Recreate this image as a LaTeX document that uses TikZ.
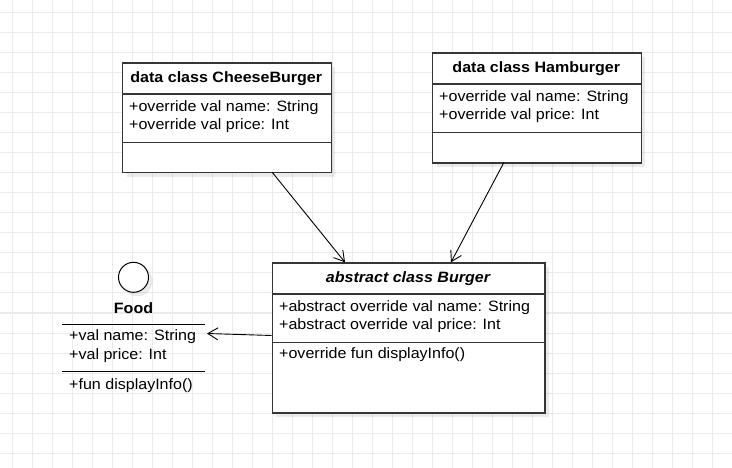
\documentclass[tikz,border=0pt]{standalone}
\usepackage{fontspec}
\setmainfont{Liberation Sans}[FakeStretch=1.07]
\usetikzlibrary{arrows.meta,shadows}
\definecolor{gridc}{HTML}{EBEBEB}
\definecolor{boxc}{HTML}{363636}
\begin{document}
\begin{tikzpicture}[x=1pt,y=-1pt,
  box/.style={draw=boxc, line width=1.4pt, fill=white, inner sep=0pt, anchor=north west,
    drop shadow={shadow xshift=4pt, shadow yshift=-4pt, fill=black, opacity=0.08}},
  sepline/.style={draw=boxc, line width=1.2pt},
  txt/.style={font=\fontsize{15}{17}\selectfont, inner sep=0pt, anchor=west, text=black},
  ttl/.style={font=\fontsize{15}{17}\selectfont\bfseries, inner sep=0pt, text=black},
  conn/.style={draw=black, line width=0.9pt, -{Straight Barb[length=10pt,width=12pt,line width=0.9pt]}}]
\useasboundingbox (0,0) rectangle (732,468);
\fill[white] (0,0) rectangle (732,468);
% grid
\foreach \gx in {12,32,...,732} \draw[gridc, line width=1pt] (\gx,0) -- (\gx,468);
\foreach \gy in {13,33,...,468} \draw[gridc, line width=1pt] (0,\gy) -- (732,\gy);

% CheeseBurger
\node[box, minimum width=208.7pt, minimum height=109.5pt] (cb) at (122,62.5) {};
\draw[sepline] (122,94) -- (330.7,94);
\draw[sepline] (122,142.3) -- (330.7,142.3);
\node[ttl] (cbt) at (226.3,78.5) {data class CheeseBurger};
\node[txt] (cba1) at (129,107.7) {+override val name: String};
\node[txt] (cba2) at (129,126) {+override val price: Int};

% Hamburger
\node[box, minimum width=208.7pt, minimum height=110pt] (hb) at (432,52.3) {};
\draw[sepline] (432,84) -- (640.7,84);
\draw[sepline] (432,132.3) -- (640.7,132.3);
\node[ttl] (hbt) at (536.3,68.5) {data class Hamburger};
\node[txt] (hba1) at (439,97.7) {+override val name: String};
\node[txt] (hba2) at (439,116) {+override val price: Int};

% Burger
\node[box, minimum width=272.6pt, minimum height=150pt] (bg) at (271.7,262.3) {};
\draw[sepline] (271.7,294) -- (544.3,294);
\draw[sepline] (271.7,342.3) -- (544.3,342.3);
\node[ttl, font=\fontsize{15}{17}\selectfont\bfseries\itshape] (bgt) at (408,278.5) {abstract class Burger};
\node[txt] (bga1) at (279,307.7) {+abstract override val name: String};
\node[txt] (bga2) at (279,326) {+abstract override val price: Int};
\node[txt] (bgm1) at (279,355) {+override fun displayInfo()};

% Food interface
\node[circle, draw=black, line width=1pt, fill=white, minimum size=30pt, inner sep=0pt,
  drop shadow={shadow xshift=4pt, shadow yshift=-4pt, fill=black, opacity=0.08}] (fc) at (133.5,277.3) {};
\node[ttl] (ft) at (133.5,308.3) {Food};
\draw[black, line width=1pt] (62,324.3) -- (205,324.3);
\draw[black, line width=1pt] (62,371.7) -- (205,371.7);
\node[txt] (fa1) at (69,336.7) {+val name: String};
\node[txt] (fa2) at (69,355.7) {+val price: Int};
\node[txt] (fm1) at (69,385.5) {+fun displayInfo()};

% connectors
\coordinate (cbout) at (272,172);
\coordinate (bgin1) at (345,262.3);
\coordinate (hbout) at (504,162.3);
\coordinate (bgin2) at (451,262.3);
\coordinate (bgout) at (271.7,335.5);
\coordinate (fin) at (207,333.5);
\draw[conn] (cbout) -- (bgin1);
\draw[conn] (hbout) -- (bgin2);
\draw[conn] (bgout) -- (fin);
\end{tikzpicture}
\end{document}
